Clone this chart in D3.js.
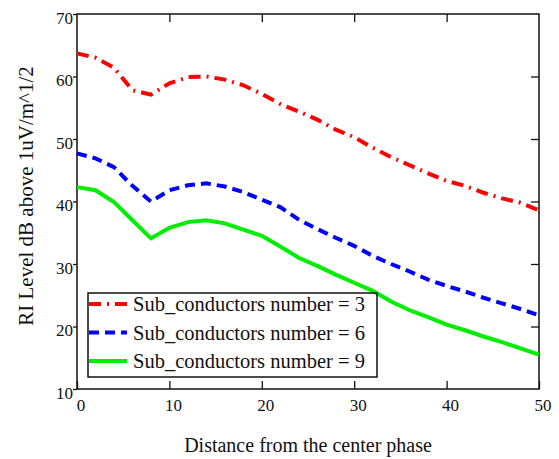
<html>
<head>
    <meta charset="utf-8">
    <title>RI Level</title>
</head>
<style>
    body { margin: 0; background: #fff; }
</style>
<body>
<script src="https://cdn.jsdelivr.net/npm/d3@7"></script>
<script>
    // distance from the center phase (m)
    var distance = [0, 2, 4, 6, 8, 10, 12, 14, 16, 18, 20, 22, 24, 26, 28, 30, 32, 34, 36, 38, 40, 42, 44, 46, 48, 50];
    // RI level for each sub-conductor count
    var sub3 = [63.7, 63.0, 61.4, 57.8, 57.1, 58.9, 59.9, 60.0, 59.5, 58.6, 57.2, 55.6, 54.4, 53.1, 51.5, 50.3, 48.6, 47.1, 45.8, 44.5, 43.3, 42.5, 41.4, 40.5, 39.8, 38.6];
    var sub6 = [47.7, 46.9, 45.5, 42.5, 40.0, 41.8, 42.6, 42.9, 42.4, 41.5, 40.3, 39.1, 37.1, 35.6, 34.2, 32.9, 31.3, 30.0, 28.8, 27.5, 26.5, 25.6, 24.6, 23.7, 22.8, 21.8];
    var sub9 = [42.3, 41.8, 39.9, 37.0, 34.1, 35.8, 36.7, 37.0, 36.5, 35.5, 34.5, 32.8, 31.0, 29.7, 28.3, 27.0, 25.7, 24.0, 22.6, 21.5, 20.3, 19.4, 18.4, 17.5, 16.5, 15.5];
    var seriesNames = ["Sub_conductors number = 3", "Sub_conductors number = 6", "Sub_conductors number = 9"];
    var xTicks = [0, 10, 20, 30, 40, 50];
    var yTicks = [10, 20, 30, 40, 50, 60, 70];

    var serif = "'Liberation Serif', 'Times New Roman', serif";
    var width = 559, height = 459;
    var margin = {left: 77, top: 14, right: 20, bottom: 70};
    var w = width - margin.left - margin.right;   // 462
    var h = height - margin.top - margin.bottom;  // 375

    var svg = d3.select("body").append("svg")
        .attr("width", width)
        .attr("height", height);

    var g = svg.append("g")
        .attr("transform", "translate(" + margin.left + "," + margin.top + ")");

    var x = d3.scaleLinear().domain([0, 50]).range([0, w]);
    var y = d3.scaleLinear().domain([10, 70]).range([h, 0]);

    // axes: left ticks outward, the others inward
    var left = g.append("g")
        .call(d3.axisLeft(y).tickValues(yTicks).tickSize(4).tickPadding(0).tickFormat(d3.format("d")));
    left.selectAll("text").attr("dy", "0.55em")
        .style("font-size", "17px").style("font-family", serif).attr("fill", "#111");

    var bottom = g.append("g")
        .attr("transform", "translate(0," + h + ")")
        .call(d3.axisBottom(x).tickValues(xTicks).tickSize(-8).tickPadding(10).tickFormat(d3.format("d")));
    bottom.selectAll("text").attr("dx", "3.5")
        .style("font-size", "17px").style("font-family", serif).attr("fill", "#111");

    g.append("g")
        .call(d3.axisTop(x).tickValues(xTicks.slice(1, -1)).tickSize(-8).tickFormat(""));
    g.append("g")
        .attr("transform", "translate(" + w + ",0)")
        .call(d3.axisRight(y).tickValues(yTicks.slice(1, -1)).tickSize(-8).tickFormat(""));

    g.selectAll(".domain").remove();
    g.selectAll(".tick line").attr("stroke", "#111").attr("stroke-width", 1.3);

    g.append("rect")
        .attr("width", w).attr("height", h)
        .attr("fill", "none")
        .attr("stroke", "#111")
        .attr("stroke-width", 1.5);

    // lines
    var line = d3.line()
        .x(function (d, i) { return x(distance[i]); })
        .y(function (d) { return y(d); });

    var styles = [
        {data: sub3, color: "#ff0000", dash: "12,6,2,6"},
        {data: sub6, color: "#0000ff", dash: "10,6"},
        {data: sub9, color: "#00ee00", dash: null}
    ];

    styles.forEach(function (s) {
        g.append("path")
            .attr("d", line(s.data))
            .attr("fill", "none")
            .attr("stroke", s.color)
            .attr("stroke-width", 4)
            .attr("stroke-dasharray", s.dash);
    });

    // legend
    var lg = g.append("g").attr("transform", "translate(11,279)");
    lg.append("rect")
        .attr("width", 289).attr("height", 84)
        .attr("fill", "none")
        .attr("stroke", "#111")
        .attr("stroke-width", 1.5);

    styles.forEach(function (s, i) {
        var yy = 11 + i * 28.5;
        lg.append("line")
            .attr("x1", 1).attr("x2", 39)
            .attr("y1", yy).attr("y2", yy)
            .attr("stroke", s.color)
            .attr("stroke-width", 4)
            .attr("stroke-dasharray", s.dash);
        lg.append("text")
            .attr("x", 45).attr("y", yy + 7)
            .style("font-size", "20.5px").style("font-family", serif)
            .attr("fill", "#111")
            .text(seriesNames[i]);
    });

    // axis titles
    svg.append("text")
        .attr("x", margin.left + w / 2)
        .attr("y", 452)
        .attr("text-anchor", "middle")
        .style("font-size", "20px").style("font-family", serif)
        .attr("fill", "#111")
        .text("Distance from the center phase");

    svg.append("text")
        .attr("transform", "translate(33,196) rotate(-90)")
        .attr("text-anchor", "middle")
        .style("font-size", "21px").style("font-family", serif)
        .attr("fill", "#111")
        .text("RI Level dB above 1uV/m^1/2");
</script>
</body>
</html>
